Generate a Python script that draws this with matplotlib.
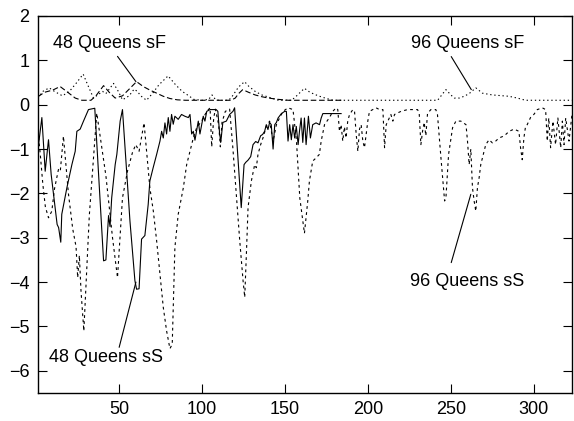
import numpy as np
import matplotlib
matplotlib.use('Agg')
import matplotlib.pyplot as plt

plt.rcParams['font.family'] = ['Liberation Sans', 'DejaVu Sans']

# === DATA === #
# 48 Queens sF, long dashes
q48_sf_x = [1, 5, 10, 14.4, 19, 23.5, 27.5, 33, 36, 40.6, 44, 47.6, 52, 56, 60.5,
            64.5, 68.5, 72.6, 76.6, 80.6, 85, 90, 117.4, 120, 122, 124.5, 128,
            132, 136, 140, 146, 152, 184]
q48_sf_y = [0.18, 0.28, 0.33, 0.41, 0.28, 0.15, 0.10, 0.10, 0.20, 0.43, 0.28, 0.15,
            0.20, 0.35, 0.52, 0.41, 0.33, 0.26, 0.19, 0.14, 0.11, 0.10, 0.10, 0.15,
            0.25, 0.34, 0.28, 0.22, 0.18, 0.15, 0.12, 0.10, 0.10]

# 96 Queens sF, dotted
q96_sf_x = [1, 4, 7.8, 11, 15.8, 20, 24, 28.3, 31, 34.5, 40, 42, 46.6, 49.5, 52,
            56, 59, 61, 63, 66.5, 70, 74, 79.5, 84, 88, 92, 95, 100, 104, 106,
            108, 110, 116, 118, 122, 125.6, 128, 132, 136, 141, 146, 154, 157,
            161.7, 165, 170, 175, 179, 242, 247, 250, 252, 255, 258, 261, 265,
            269, 275, 285, 290, 295, 323]
q96_sf_y = [0.15, 0.30, 0.38, 0.30, 0.20, 0.30, 0.48, 0.69, 0.45, 0.15, 0.30, 0.25,
            0.48, 0.30, 0.11, 0.20, 0.35, 0.30, 0.20, 0.10, 0.25, 0.45, 0.65, 0.45,
            0.30, 0.20, 0.12, 0.10, 0.12, 0.22, 0.12, 0.10, 0.10, 0.18, 0.40, 0.52,
            0.42, 0.30, 0.22, 0.16, 0.10, 0.10, 0.20, 0.37, 0.28, 0.20, 0.14, 0.10,
            0.10, 0.34, 0.22, 0.15, 0.15, 0.19, 0.25, 0.38, 0.26, 0.22, 0.19, 0.15,
            0.10, 0.10]

# 48 Queens sS, solid
q48_ss_x = [1.4, 3.4, 5.4, 7.4, 9, 12.6, 13.5, 14.8, 15.4, 18.5, 21.5, 23.5, 24.5,
            26.5, 28.5, 31.5, 35.3, 40.6, 42, 43.6, 44.5, 45.5, 47.6, 48.6, 50.6,
            52, 54.5, 56.5, 59.5, 60.5, 62, 63.5, 65.5, 67.5, 68.5, 70.5, 72.6,
            74.6, 75.6, 76.6, 77.6, 78.6, 79.6, 80.6, 81.6, 82.6, 83.6, 85.6, 87.6,
            89.6, 91.7, 92.7, 93.7, 94.7, 95.7, 97.7, 98.7, 100.7, 101.7, 102.8,
            104.8, 108.5, 109.5, 110.6, 111.3, 112.5, 114.6, 116.6, 118.6, 119.6,
            123.6, 125.3, 126.3, 127.7, 129.3, 130.7, 132.3, 133.7, 135.3, 136.5,
            137.7, 138.7, 139.7, 140.7, 141.7, 142.8, 143.8, 144.8, 145.8, 147.8,
            149.8, 150.8, 151.8, 152.8, 153.8, 154.8, 155.8, 156.8, 157.9, 158.7,
            159.7, 160.7, 161.7, 162.7, 164.1, 165.3, 166.7, 168.7, 170.8, 171.8,
            172.8, 183.8]
q48_ss_y = [-0.90, -0.29, -1.50, -0.79, -1.57, -2.70, -2.77, -3.10, -2.47, -1.87,
            -1.35, -1.05, -0.60, -0.55, -0.37, -0.11, -0.08, -3.52, -3.50, -2.50,
            -2.75, -2.10, -1.35, -1.12, -0.37, -0.11, -1.50, -2.62, -3.97, -4.16,
            -4.15, -3.03, -2.95, -2.25, -1.72, -1.42, -1.12, -0.82, -0.60, -0.75,
            -0.41, -0.66, -0.29, -0.60, -0.22, -0.44, -0.26, -0.33, -0.22, -0.26,
            -0.29, -0.22, -0.66, -0.60, -0.80, -0.37, -0.66, -0.26, -0.37, -0.15,
            -0.11, -0.11, -0.15, -0.67, -0.83, -0.40, -0.37, -0.22, -0.15, -0.07,
            -2.32, -1.35, -1.30, -1.25, -1.17, -0.90, -0.83, -0.86, -0.70, -0.67,
            -0.60, -0.45, -0.56, -0.40, -0.45, -1.00, -0.45, -0.40, -0.30, -0.20,
            -0.15, -0.15, -0.82, -0.45, -0.79, -0.45, -0.75, -0.49, -0.90, -0.60,
            -0.30, -0.85, -0.30, -0.90, -0.26, -0.75, -0.45, -0.41, -0.45, -0.30,
            -0.20, -0.20]

# 96 Queens sS, short dashes
q96_ss_x = [1, 2.4, 4, 5.5, 7.4, 9.4, 11, 13.4, 14.5, 16.4, 19.4, 22, 24, 25, 26,
            27, 28.7, 32, 36.5, 42, 46, 49, 52, 55, 58, 60, 62, 65, 68.5, 70.6,
            72.6, 74.6, 76.6, 78.6, 80.6, 82, 83.6, 85.6, 88.7, 90.7, 92.7, 94.7,
            96.7, 99.7, 102.8, 104.8, 105.8, 107, 108, 110, 111, 112, 114, 116.6,
            118.6, 120.6, 122.7, 124.7, 125.7, 126.7, 127.7, 129.7, 131.7, 132.7,
            133.7, 135.3, 136.7, 138.7, 140.7, 142.8, 144.8, 146.8, 148.8, 151.8,
            154.8, 156.9, 158.9, 161.7, 163.7, 164.7, 166.7, 168.7, 170.7, 171.8,
            173.8, 176.8, 178.8, 180.8, 181.8, 182.8, 183.8, 184.8, 185.8, 186.8,
            187.8, 188.9, 190.9, 191.9, 192.9, 193.9, 194.9, 195.9, 196.9, 197.9,
            199.9, 200.9, 204.9, 206.9, 209, 210, 211, 212, 213.8, 215, 216, 219.9,
            223.9, 229.9, 230.9, 231.9, 232.9, 233.9, 234.9, 235.9, 237.9, 240.9,
            241.9, 244, 246.2, 247, 248.6, 251, 253, 256, 259.1, 260, 261, 262,
            263, 264, 265, 266, 267, 268, 269, 271, 273, 275, 277, 279, 281, 283.1,
            285.1, 288.1, 291, 292, 293, 294, 295, 296, 298, 300, 302.1, 305.1,
            307.1, 308.1, 309, 310.1, 311.5, 313.1, 314.5, 316.2, 317.2, 318.2,
            319.2, 321.2, 323]
q96_ss_y = [-0.60, -1.10, -1.80, -2.30, -2.55, -2.40, -1.90, -1.46, -1.50, -0.71,
            -2.00, -2.80, -3.20, -3.90, -3.40, -4.20, -5.10, -2.50, -0.19, -1.60,
            -3.00, -3.90, -2.10, -1.50, -1.08, -0.90, -1.05, -0.41, -1.87, -2.40,
            -3.07, -3.82, -4.57, -5.10, -5.50, -5.40, -3.22, -2.47, -1.87, -1.35,
            -1.05, -0.75, -0.52, -0.37, -0.15, -0.07, -0.95, -0.30, -0.10, -0.45,
            -0.95, -0.40, -0.15, -0.10, -1.00, -2.00, -3.07, -3.97, -4.34, -3.37,
            -2.32, -1.72, -1.35, -1.42, -1.12, -0.90, -0.75, -0.49, -0.37, -0.82,
            -0.45, -0.29, -0.15, -0.07, -0.11, -0.82, -2.10, -2.90, -2.17, -1.72,
            -1.27, -1.20, -1.12, -0.82, -0.45, -0.29, -0.15, -0.07, -0.11, -0.60,
            -0.45, -0.82, -0.50, -0.75, -0.37, -0.22, -0.11, -0.15, -0.67, -1.05,
            -0.55, -0.45, -0.82, -0.97, -0.37, -0.15, -0.07, -0.11, -0.11, -0.97,
            -0.45, -0.37, -0.22, -0.37, -0.22, -0.15, -0.11, -0.11, -0.20, -0.90,
            -0.60, -0.40, -0.70, -0.20, -0.11, -0.11, -0.22, -1.20, -2.17, -2.10,
            -1.12, -0.52, -0.37, -0.37, -0.45, -0.82, -1.35, -1.00, -1.87, -2.17,
            -2.40, -1.87, -1.65, -1.35, -1.20, -0.90, -0.79, -0.86, -0.82, -0.75,
            -0.72, -0.67, -0.60, -0.55, -0.60, -0.97, -1.24, -0.75, -0.49, -0.45,
            -0.29, -0.22, -0.11, -0.07, -0.11, -0.82, -0.30, -0.97, -0.37, -0.90,
            -0.30, -0.97, -0.37, -0.90, -0.30, -0.82, -0.22]

xticks = [50, 100, 150, 200, 250, 300]
yticks = [-6, -5, -4, -3, -2, -1, 0, 1, 2]

# === PLOTTING === #
fig = plt.figure(figsize=(5.74, 4.21), dpi=100)
ax = fig.add_axes([0.066, 0.0665, 0.9305, 0.8955])

lw = 0.8
ax.plot(q48_sf_x, q48_sf_y, color='black', lw=lw, dashes=(5, 2.5))
ax.plot(q96_sf_x, q96_sf_y, color='black', lw=lw, dashes=(1.2, 2.5))
ax.plot(q48_ss_x, q48_ss_y, color='black', lw=lw)
ax.plot(q96_ss_x, q96_ss_y, color='black', lw=lw, dashes=(2.5, 3))

ax.set_xlim(1, 323)
ax.set_ylim(-6.5, 2)
ax.set_xticks(xticks)
ax.set_yticks(yticks)
ax.tick_params(direction='in', length=6.5, width=0.8, labelsize=13,
               top=True, right=True, pad=6)
for s in ax.spines.values():
    s.set_linewidth(1.0)

# labels with pointer lines
fs = 13
ax.text(44, 1.38, '48 Queens sF', fontsize=fs, ha='center', va='center')
ax.annotate('', xy=(60.1, 0.52), xytext=(49, 1.09),
            arrowprops=dict(arrowstyle='-', lw=0.8, shrinkA=0, shrinkB=0))
ax.text(260, 1.39, '96 Queens sF', fontsize=fs, ha='center', va='center')
ax.annotate('', xy=(262.3, 0.34), xytext=(250.2, 1.085),
            arrowprops=dict(arrowstyle='-', lw=0.8, shrinkA=0, shrinkB=0))
ax.text(42, -5.71, '48 Queens sS', fontsize=fs, ha='center', va='center')
ax.annotate('', xy=(60.1, -4.0), xytext=(50, -5.47),
            arrowprops=dict(arrowstyle='-', lw=0.8, shrinkA=0, shrinkB=0))
ax.text(260, -3.99, '96 Queens sS', fontsize=fs, ha='center', va='center')
ax.annotate('', xy=(262, -2.02), xytext=(250.2, -3.56),
            arrowprops=dict(arrowstyle='-', lw=0.8, shrinkA=0, shrinkB=0))

fig.savefig('out.png', dpi=100)
